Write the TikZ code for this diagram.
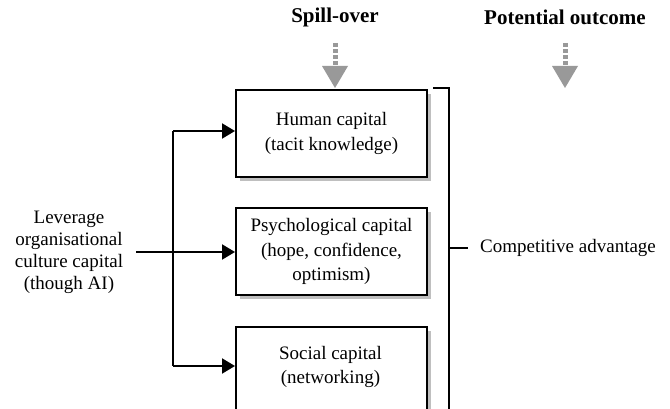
\documentclass[tikz,border=0pt]{standalone}
\usepackage{fontspec}
\setmainfont{Liberation Serif}
\usetikzlibrary{arrows.meta,calc}
\begin{document}
\begin{tikzpicture}[x=1pt,y=-1pt,
  txt/.style={font=\fontsize{19}{24.5}\selectfont, align=center, inner sep=0pt},
  levtxt/.style={font=\fontsize{19}{22}\selectfont, align=center, inner sep=0pt},
  head/.style={font=\bfseries\fontsize{21}{24}\selectfont, inner sep=0pt},
  capbox/.style={draw=black, line width=2pt, fill=white, minimum width=191pt, minimum height=87pt, inner sep=0pt, anchor=north west, align=center, font=\fontsize{19}{24.5}\selectfont},
  conn/.style={line width=2pt, -{Triangle[length=13pt,width=15pt]}},
  line/.style={line width=2pt},
  shade/.style={fill=black!25, draw=none},
  spill/.style={line width=5pt, draw=black!40, dash pattern=on 4pt off 2pt},
  spillhead/.style={fill=black!40, draw=none}
]
\useasboundingbox (0,0) rectangle (670,409);
% shadows
\fill[shade] (240,94) rectangle (431,181);
\fill[shade] (240,212) rectangle (431,299);
\fill[shade] (240,331) rectangle (431,420);
% boxes
\node[capbox] (hc) at (235,89) {Human capital\\(tacit knowledge)};
\node[capbox] (pc) at (235,207) {Psychological capital\\(hope, confidence,\\optimism)};
\node[capbox, minimum height=100pt] (sc) at (235,326) {};
\node[txt] (sct) at (330.5,367) {Social capital\\(networking)};
% headings
\node[head] (spill) at (335,17) {Spill-over};
\node[head] (pot) at (565,17) {Potential outcome};
% gray arrows
\coordinate (s1a) at (335,43);
\coordinate (s1b) at (335,67);
\coordinate (s2a) at (565,43);
\coordinate (s2b) at (565,67);
\draw[spill] (s1a) -- (s1b);
\fill[spillhead] (322,66) -- (348,66) -- (335,88) -- cycle;
\draw[spill] (s2a) -- (s2b);
\fill[spillhead] (552,66) -- (578,66) -- (565,88) -- cycle;
% left text
\node[levtxt] (lev) at (69,252) {Leverage\\organisational\\culture capital\\(though AI)};
\coordinate (ls) at (136,252);
\coordinate (j) at (173,252);
\coordinate (jt) at (173,131);
\coordinate (jb) at (173,366);
\draw[line] (ls) -- (j);
\draw[line] (jt) -- (jb);
\draw[conn] (jt) -- (hc.west |- jt);
\draw[conn] (j) -- (pc.west |- j);
\draw[conn] (jb) -- (sc.west |- jb);
% bracket
\coordinate (bt0) at (433,88);
\coordinate (bt) at (449,88);
\coordinate (bb) at (449,415);
\coordinate (bm) at (449,248);
\draw[line] (bt0) -- (bt) -- (bb);
\node[txt, anchor=west] (ca) at (480,248) {Competitive advantage};
\draw[line] (bm) -- (468,248);
\end{tikzpicture}
\end{document}
